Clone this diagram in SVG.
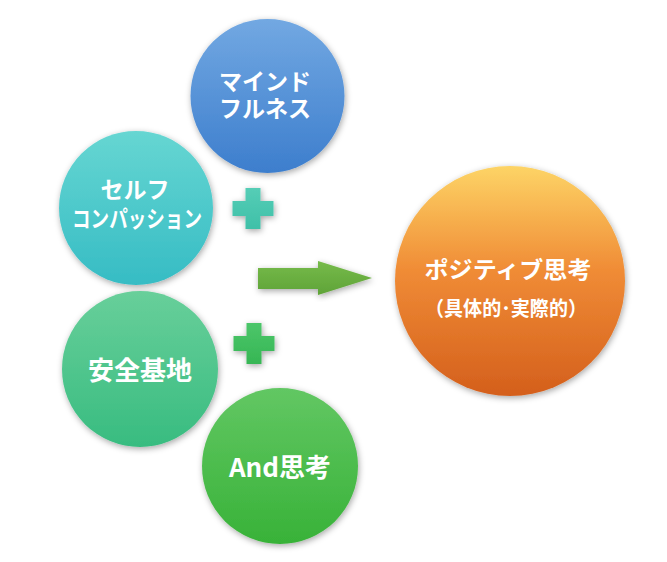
<svg xmlns="http://www.w3.org/2000/svg" width="667" height="562" viewBox="0 0 667 562">
<defs>
<linearGradient id="gBlue" x1="0" y1="0" x2="0" y2="1"><stop offset="0" stop-color="#72a8e2"/><stop offset="1" stop-color="#3d7ecd"/></linearGradient>
<linearGradient id="gTeal" x1="0" y1="0" x2="0" y2="1"><stop offset="0" stop-color="#66d6d2"/><stop offset="1" stop-color="#36bcc4"/></linearGradient>
<linearGradient id="gMint" x1="0" y1="0" x2="0" y2="1"><stop offset="0" stop-color="#68cf9a"/><stop offset="1" stop-color="#38bc80"/></linearGradient>
<linearGradient id="gGreen" x1="0" y1="0" x2="0" y2="1"><stop offset="0" stop-color="#62c763"/><stop offset="1" stop-color="#38b238"/></linearGradient>
<linearGradient id="gOrange" x1="0" y1="0" x2="0" y2="1"><stop offset="0" stop-color="#fdd466"/><stop offset="0.45" stop-color="#f08c36"/><stop offset="1" stop-color="#d45f1c"/></linearGradient>
<linearGradient id="gArrow" x1="0" y1="0" x2="0" y2="1"><stop offset="0" stop-color="#76bb4a"/><stop offset="1" stop-color="#5fa338"/></linearGradient>
<linearGradient id="gPlus1" x1="0" y1="0" x2="0" y2="1"><stop offset="0" stop-color="#55cdb6"/><stop offset="1" stop-color="#3fc0a8"/></linearGradient>
<linearGradient id="gPlus2" x1="0" y1="0" x2="0" y2="1"><stop offset="0" stop-color="#4cc66a"/><stop offset="1" stop-color="#36b654"/></linearGradient>
<filter id="sh" x="-20%" y="-20%" width="140%" height="140%"><feDropShadow dx="1" dy="2" stdDeviation="3" flood-color="#000" flood-opacity="0.35"/></filter>
</defs>
<style>
.t{font-family:"Noto Sans CJK JP","Noto Sans",sans-serif;font-weight:bold;fill:#fff;text-anchor:middle;dominant-baseline:central}
</style>
<rect width="667" height="562" fill="#fff"/>
<g id="plus-signs">
<path d="M245.5 188h15v13h13v15h-13v13h-15v-13h-13v-15h13z" fill="url(#gPlus1)" filter="url(#sh)"/>
<path d="M246.5 323h15v13h13v15h-13v13h-15v-13h-13v-15h13z" fill="url(#gPlus2)" filter="url(#sh)"/>
</g>
<g id="connectors">
<path d="M258 268h60v-7l54 17l-54 17v-6h-60z" fill="url(#gArrow)" filter="url(#sh)"/>
</g>
<g id="mindfulness">
<circle cx="267.5" cy="96" r="77" fill="url(#gBlue)" filter="url(#sh)"/>
<text class="t" x="265" y="80" font-size="23">マインド</text>
<text class="t" x="265" y="107" font-size="23">フルネス</text>
</g>
<g id="self-compassion">
<circle cx="136" cy="208" r="77" fill="url(#gTeal)" filter="url(#sh)"/>
<text class="t" x="135" y="188" font-size="23">セルフ</text>
<text class="t" x="137" y="217" font-size="23" textLength="130" lengthAdjust="spacingAndGlyphs">コンパッション</text>
</g>
<g id="secure-base">
<circle cx="140" cy="369" r="78" fill="url(#gMint)" filter="url(#sh)"/>
<text class="t" x="140" y="368" font-size="26">安全基地</text>
</g>
<g id="and-thinking">
<circle cx="280" cy="466" r="78" fill="url(#gGreen)" filter="url(#sh)"/>
<text class="t" x="280" y="465" font-size="26">And思考</text>
</g>
<g id="positive-thinking">
<circle cx="510" cy="281" r="115" fill="url(#gOrange)" filter="url(#sh)"/>
<text class="t" x="508" y="268" font-size="23" textLength="167" lengthAdjust="spacingAndGlyphs">ポジティブ思考</text>
<text class="t" x="506" y="307" font-size="20" textLength="162" lengthAdjust="spacingAndGlyphs">（具体的･実際的）</text>
</g>
</svg>
